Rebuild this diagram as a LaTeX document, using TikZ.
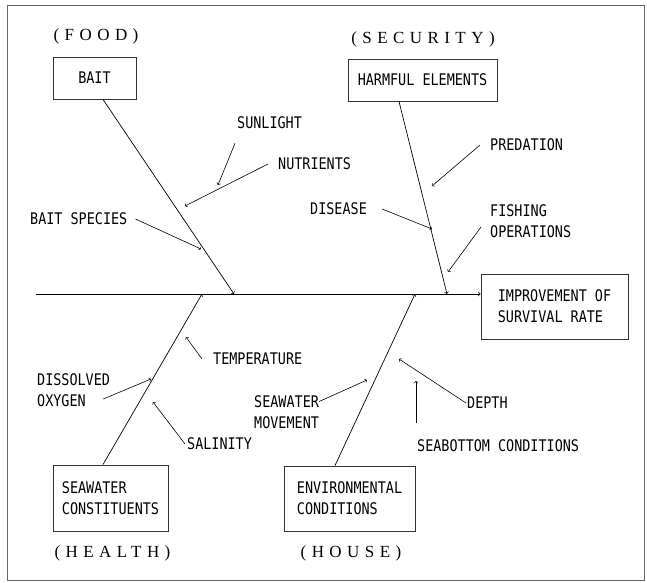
\documentclass[tikz,border=0pt]{standalone}
\usepackage{fontspec}
\newfontfamily\plotfont[FakeStretch=0.84]{DejaVu Sans Mono}
\newfontfamily\titrefont[LetterSpace=32]{Liberation Serif}

\tikzset{
  cadre/.style={draw=black!80, line width=0.9pt, align=left,
    font=\plotfont\fontsize{16}{21}\selectfont},
  etiquette/.style={inner sep=0pt, align=left, anchor=west,
    font=\plotfont\fontsize{16}{21}\selectfont},
  titre/.style={inner sep=0pt, font=\titrefont\fontsize{17}{20}\selectfont},
  arete/.style={->, line width=0.7pt},
  cause/.style={->, line width=0.6pt},
}

\begin{document}
\begin{tikzpicture}[x=1pt,y=-1pt]
        \useasboundingbox (0,0) rectangle (647,582);
        % Cadre
        \draw[black!60, line width=0.8pt] (7,5) rectangle (644,580);
        % Boites
        \path(94.5,78) node[cadre, minimum width=83pt, minimum height=42pt] (bait) {BAIT};
        \path(422.5,80) node[cadre, minimum width=149pt, minimum height=42pt] (harmful) {HARMFUL ELEMENTS};
        \path(110.5,498) node[cadre, minimum width=115pt, minimum height=66pt] (health) {SEAWATER\\CONSTITUENTS};
        \path(349.5,498.5) node[cadre, minimum width=131pt, minimum height=65pt] (env) {ENVIRONMENTAL\\CONDITIONS};
        \path(554.5,306.5) node[cadre, minimum width=147pt, minimum height=65pt] (effect) {IMPROVEMENT OF\\SURVIVAL RATE};
        % Titres
        \path(96,36) node[titre] (food) {(FOOD)};
        \path(423,39) node[titre] (security) {(SECURITY)};
        \path(112.5,553) node[titre] (healthtitle) {(HEALTH)};
        \path(351,553) node[titre] (house) {(HOUSE)};
        % Arete centrale
        \coordinate (queue) at (36,294);
        \draw[arete] (queue) -- (queue -| effect.west);
        % Aretes
        \coordinate (j1) at (234,294);
        \coordinate (j2) at (447,294);
        \coordinate (j3) at (202,294);
        \coordinate (j4) at (415,294);
        \draw[arete] ([xshift=8.5pt]bait.south) -- (j1);
        \draw[arete] ([xshift=-23.5pt]harmful.south) -- (j2);
        \draw[arete] ([xshift=-7.5pt]health.north) -- (j3);
        \draw[arete] ([xshift=-14.5pt]env.north) -- (j4);
        % Causes
        \path(237,123) node[etiquette] (sunlight) {SUNLIGHT};
        \path(278,164) node[etiquette] (nutrients) {NUTRIENTS};
        \path(30,219) node[etiquette] (baitspecies) {BAIT SPECIES};
        \path(490,145) node[etiquette] (predation) {PREDATION};
        \path(310,209) node[etiquette] (disease) {DISEASE};
        \path(490,221) node[etiquette] (fishing) {FISHING\\OPERATIONS};
        \path(213,359) node[etiquette] (temperature) {TEMPERATURE};
        \path(37,390.5) node[etiquette] (oxygen) {DISSOLVED\\OXYGEN};
        \path(187,444) node[etiquette] (salinity) {SALINITY};
        \path(254,412.5) node[etiquette] (movement) {SEAWATER\\MOVEMENT};
        \path(467,403) node[etiquette] (depth) {DEPTH};
        \path(417,446) node[etiquette] (seabottom) {SEABOTTOM CONDITIONS};
        % Pointes des fleches
        \coordinate (p-sun) at (218,185);
        \coordinate (p-nut) at (185,206);
        \coordinate (p-bsp) at (201,249);
        \coordinate (p-pre) at (432,186);
        \coordinate (p-dis) at (432,229);
        \coordinate (p-fis) at (448,272);
        \coordinate (p-tem) at (186,337);
        \coordinate (p-oxy) at (151,379);
        \coordinate (p-sal) at (153,402);
        \coordinate (p-mov) at (367,380);
        \coordinate (p-dep) at (399,359);
        \coordinate (p-sea) at (416,381);
        \draw[cause] ([xshift=-2pt,yshift=-14pt]sunlight.south west) -- (p-sun);
        \draw[cause] ([xshift=-10pt]nutrients.west) -- (p-nut);
        \draw[cause] ([xshift=8pt]baitspecies.east) -- (p-bsp);
        \draw[cause] ([xshift=-10pt]predation.west) -- (p-pre);
        \draw[cause] ([xshift=15pt]disease.east) -- (p-dis);
        \draw[cause] ([xshift=-9pt,yshift=-6pt]fishing.west) -- (p-fis);
        \draw[cause] ([xshift=-11pt]temperature.west) -- (p-tem);
        \draw[cause] ([xshift=-7pt,yshift=-8.5pt]oxygen.east) -- (p-oxy);
        \draw[cause] ([xshift=-2pt]salinity.west) -- (p-sal);
        \draw[cause] ([yshift=11pt]movement.east) -- (p-mov);
        \draw[cause] ([xshift=-1pt]depth.west) -- (p-dep);
        \draw[cause] ([xshift=-1pt,yshift=23pt]seabottom.west) -- (p-sea);
     \end{tikzpicture}
\end{document}
